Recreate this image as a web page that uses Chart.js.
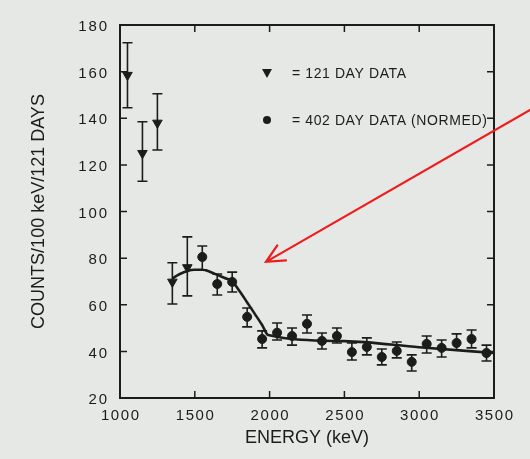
<!DOCTYPE html>
<html>
<head>
<meta charset="utf-8">
<script src="https://cdn.jsdelivr.net/npm/chart.js@4/dist/chart.umd.min.js"></script>
<style>
html,body{margin:0;padding:0;background:#e6e8e5;}
canvas{display:block;}
</style>
</head>
<body>
<canvas id="c" width="530" height="459"></canvas>
<script>
// 121 day data (triangles)
const triX  = [1050, 1150, 1250, 1350, 1450];
const triY  = [158.5, 125, 138, 69.8, 76];
const triLo = [144.5, 113, 126.4, 60.3, 63.8];
const triHi = [172.4, 138.5, 150.5, 78, 89.1];

// 402 day data (normed, circles)
const circX  = [1550,1650,1750,1850,1950,2050,2150,2250,2350,2450,2550,2650,2750,2850,2950,3050,3150,3250,3350,3450];
const circY  = [80.5,68.9,69.8,54.8,45.3,48.0,46.6,51.8,44.5,46.6,39.7,41.9,37.6,40.2,35.5,43.2,41.5,43.6,45.3,39.3];
const circLo = [75.0,64.2,65.5,50.5,41.5,44.9,42.7,47.9,41.0,43.6,36.3,38.5,34.2,37.2,31.6,39.3,37.6,40.6,41.5,35.9];
const circHi = [85.2,73.2,74.0,58.6,48.8,52.2,50.0,55.6,47.9,50.0,43.6,45.8,41.0,44.0,38.5,46.6,44.9,47.5,49.2,42.7];

// fitted curve
const fitX = [1350,1400,1450,1500,1550,1600,1650,1700,1750,1800,1850,1900,1950,1990,2500,3000,3500];
const fitY = [71.3,73.2,74.5,75.0,75.0,74.2,72.8,71.5,70.0,65.8,61.0,56.2,51.3,47.0,44.4,41.8,39.3];

// axis ticks
const xTicks = [1000,1500,2000,2500,3000,3500];
const yTicks = [20,40,60,80,100,120,140,160,180];

// legend / annotation
const legendLabels = ['= 121 DAY DATA', '= 402 DAY DATA (NORMED)'];
const arrowTail = {x: 3741, y: 143.6};
const arrowHead = {x: 1976, y: 78.4};

const ink = '#1c1c1c';
const FONT = '"Liberation Sans", Arial, Helvetica, sans-serif';

const pts = (xs, ys) => xs.map((x, i) => ({x, y: ys[i]}));

const bgPlugin = {
  id: 'bg',
  beforeDraw(chart) {
    const c = chart.ctx;
    c.save();
    c.fillStyle = '#e6e8e5';
    c.fillRect(0, 0, chart.width, chart.height);
    c.restore();
  }
};

function spacedText(c, text, x, y, align, spacing) {
  c.letterSpacing = spacing + 'px';
  const w = c.measureText(text).width - spacing;
  let sx = x;
  if (align === 'center') sx = x - w / 2;
  else if (align === 'right') sx = x - w;
  c.textAlign = 'left';
  c.fillText(text, sx, y);
  c.letterSpacing = '0px';
}

const decoPlugin = {
  id: 'deco',
  afterDatasetsDraw(chart) {
    const c = chart.ctx;
    const xs = chart.scales.x, ys = chart.scales.y;
    const a = chart.chartArea;
    c.save();
    // error bars
    c.strokeStyle = ink;
    c.lineWidth = 1.6;
    const drawErr = (X, Lo, Hi) => {
      X.forEach((x, i) => {
        const px = xs.getPixelForValue(x);
        const p1 = ys.getPixelForValue(Lo[i]);
        const p2 = ys.getPixelForValue(Hi[i]);
        c.beginPath();
        c.moveTo(px, p1); c.lineTo(px, p2);
        c.moveTo(px - 5, p1); c.lineTo(px + 5, p1);
        c.moveTo(px - 5, p2); c.lineTo(px + 5, p2);
        c.stroke();
      });
    };
    drawErr(triX, triLo, triHi);
    drawErr(circX, circLo, circHi);

    // frame
    c.lineWidth = 2;
    c.strokeStyle = ink;
    c.strokeRect(a.left, a.top, a.right - a.left, a.bottom - a.top);

    // inward ticks
    c.lineWidth = 1.5;
    c.beginPath();
    xTicks.slice(1, -1).forEach(v => {
      const px = xs.getPixelForValue(v);
      c.moveTo(px, a.bottom); c.lineTo(px, a.bottom - 7);
      c.moveTo(px, a.top); c.lineTo(px, a.top + 7);
    });
    yTicks.slice(1, -1).forEach(v => {
      const py = ys.getPixelForValue(v);
      c.moveTo(a.left, py); c.lineTo(a.left + 7, py);
      c.moveTo(a.right, py); c.lineTo(a.right - 7, py);
    });
    c.stroke();

    // tick labels
    c.fillStyle = ink;
    c.font = '15px ' + FONT;
    c.textBaseline = 'middle';
    xTicks.forEach(v => {
      spacedText(c, String(v), xs.getPixelForValue(v), a.bottom + 18, 'center', 1.6);
    });
    yTicks.forEach(v => {
      spacedText(c, String(v), a.left - 13, ys.getPixelForValue(v) + 2, 'right', 1.8);
    });

    // legend
    const lx = a.left + 147, ly1 = a.top + 48, ly2 = a.top + 95;
    c.beginPath();
    c.moveTo(lx - 5, ly1 - 4); c.lineTo(lx + 5, ly1 - 4); c.lineTo(lx, ly1 + 5); c.closePath();
    c.fill();
    c.beginPath();
    c.arc(lx, ly2, 4, 0, Math.PI * 2);
    c.fill();
    c.font = '14px ' + FONT;
    spacedText(c, legendLabels[0], lx + 25, ly1 + 1, 'left', 0.6);
    spacedText(c, legendLabels[1], lx + 25, ly2 + 1, 'left', 0.6);

    // red arrow
    const tx = xs.getPixelForValue(arrowTail.x), ty = ys.getPixelForValue(arrowTail.y);
    const hx = xs.getPixelForValue(arrowHead.x), hy = ys.getPixelForValue(arrowHead.y);
    c.strokeStyle = '#ee1c1c';
    c.lineWidth = 2.2;
    c.lineCap = 'round';
    c.beginPath();
    c.moveTo(tx, ty); c.lineTo(hx, hy);
    const ang = Math.atan2(ty - hy, tx - hx);
    const L = 20, spread = 0.45;
    c.moveTo(hx + L * Math.cos(ang + spread), hy + L * Math.sin(ang + spread));
    c.lineTo(hx, hy);
    c.lineTo(hx + L * Math.cos(ang - spread), hy + L * Math.sin(ang - spread));
    c.stroke();
    c.restore();
  }
};

new Chart(document.getElementById('c'), {
  type: 'scatter',
  data: {
    datasets: [
      {
        label: 'fit',
        data: pts(fitX, fitY),
        showLine: true,
        borderColor: ink,
        borderWidth: 2.6,
        pointRadius: 0,
        cubicInterpolationMode: 'monotone',
        order: 3
      },
      {
        label: '121 DAY DATA',
        data: pts(triX, triY),
        pointStyle: 'triangle',
        rotation: 180,
        pointRadius: 5.5,
        backgroundColor: ink,
        borderColor: ink,
        borderWidth: 1,
        order: 1
      },
      {
        label: '402 DAY DATA (NORMED)',
        data: pts(circX, circY),
        pointStyle: 'circle',
        pointRadius: 4.5,
        backgroundColor: ink,
        borderColor: ink,
        borderWidth: 1,
        order: 2
      }
    ]
  },
  options: {
    responsive: false,
    devicePixelRatio: 1,
    animation: false,
    layout: { padding: { left: 0, top: 25, right: 36, bottom: 0 } },
    plugins: { legend: { display: false }, tooltip: { enabled: false } },
    scales: {
      x: {
        type: 'linear', min: 1000, max: 3500,
        afterBuildTicks: s => { s.ticks = xTicks.map(v => ({value: v})); },
        afterFit: s => { s.height = 61; },
        grid: { display: false, drawTicks: false },
        border: { display: false },
        ticks: { display: false },
        title: { display: true, text: 'ENERGY (keV)', color: ink, font: { family: FONT, size: 18 }, padding: { top: 0, bottom: 10 } }
      },
      y: {
        type: 'linear', min: 20, max: 180,
        afterBuildTicks: s => { s.ticks = yTicks.map(v => ({value: v})); },
        afterFit: s => { s.width = 120; },
        grid: { display: false, drawTicks: false },
        border: { display: false },
        ticks: { display: false },
        title: { display: true, text: 'COUNTS/100 keV/121 DAYS', color: ink, font: { family: FONT, size: 18 }, padding: { top: 28, bottom: 0 } }
      }
    }
  },
  plugins: [bgPlugin, decoPlugin]
});
</script>
</body>
</html>
